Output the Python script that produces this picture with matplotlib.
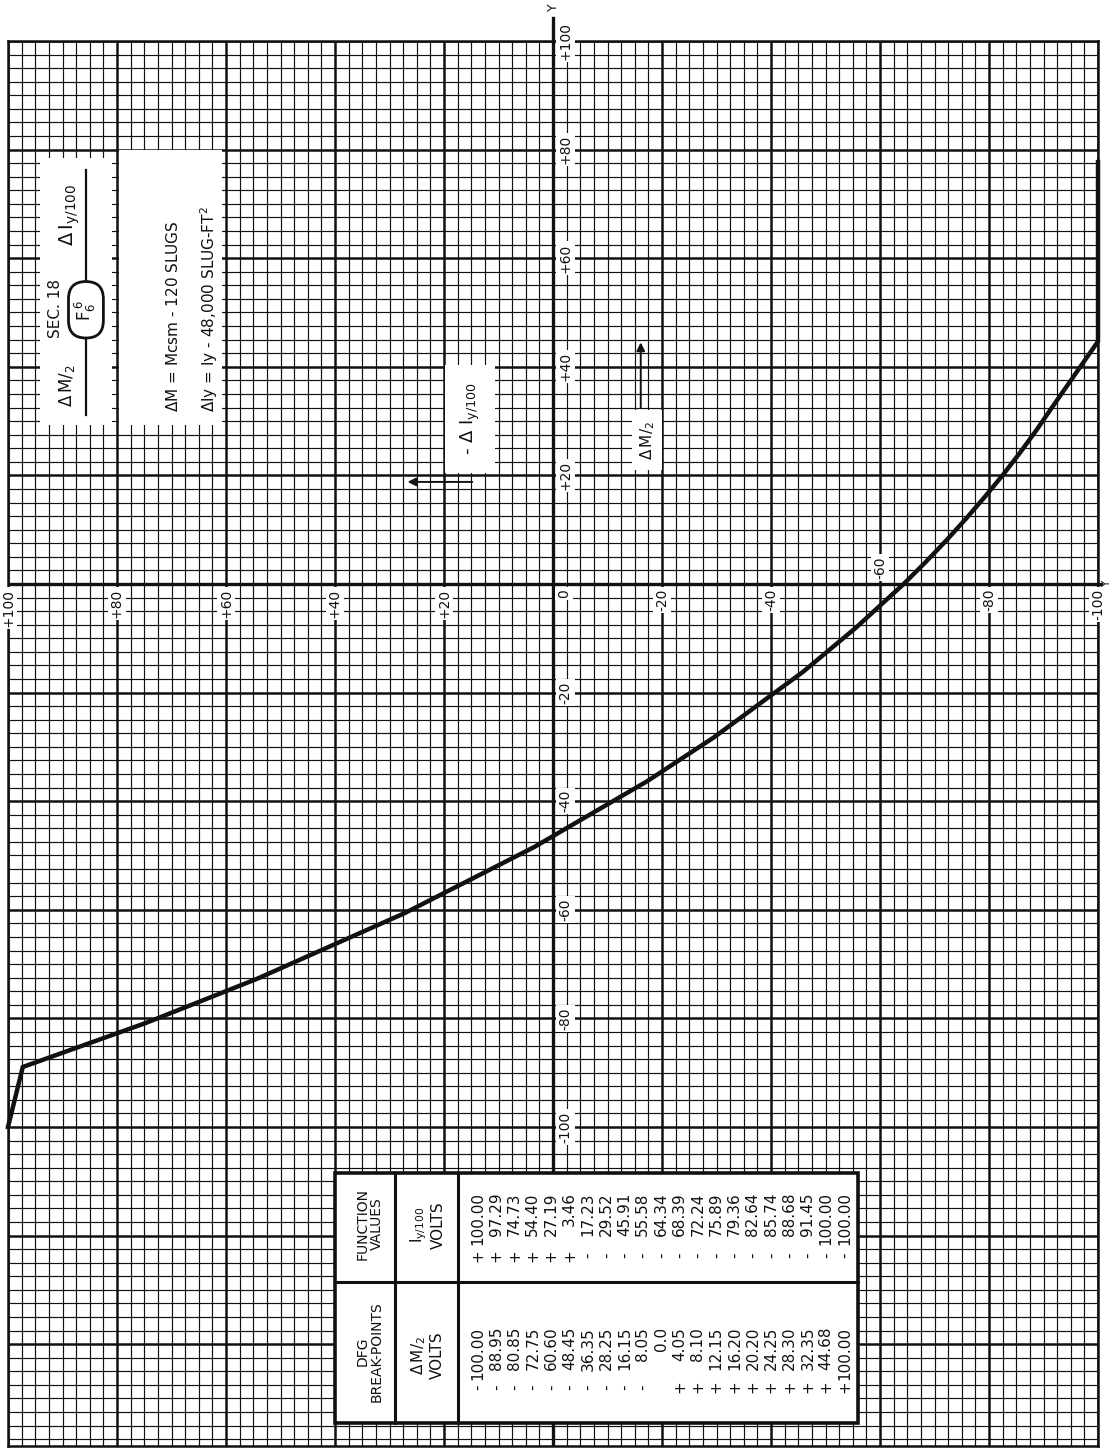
import numpy as np
import matplotlib
matplotlib.use("Agg")
import matplotlib.pyplot as plt
from matplotlib.ticker import MultipleLocator
from matplotlib.patches import Rectangle, FancyBboxPatch

# DFG break-points (delta M / 2, volts) and function values (Iy/100, volts)
dm_half = [-100.00, -88.95, -80.85, -72.75, -60.60, -48.45, -36.35, -28.25, -16.15, -8.05,
           0.0, 4.05, 8.10, 12.15, 16.20, 20.20, 24.25, 28.30, 32.35, 44.68, 100.00]
iy_vals = [100.00, 97.29, 74.73, 54.40, 27.19, 3.46, -17.23, -29.52, -45.91, -55.58,
           -64.34, -68.39, -72.24, -75.89, -79.36, -82.64, -85.74, -88.68, -91.45, -100.00, -100.00]
# drawn curve stops short of the last break-point on the sheet
curve_top_dm = 77.7

axis_ticks = [100, 80, 60, 40, 20, 0, -20, -40, -60, -80, -100]

INK = "#111111"
plt.rcParams["font.family"] = ["DejaVu Sans"]
plt.rcParams["mathtext.fontset"] = "dejavusans"

fig = plt.figure(figsize=(11.12, 14.48), dpi=100)
fig.patch.set_facecolor("white")
ax = fig.add_axes([8 / 1112, 2 / 1448, 1090 / 1112, (1448 - 41 - 2) / 1448])
ax.set_xlim(100, -100)
ax.set_ylim(-158.75, 100)

# graph paper
for axis in (ax.xaxis, ax.yaxis):
    axis.set_major_locator(MultipleLocator(20))
    axis.set_minor_locator(MultipleLocator(2.5))
ax.grid(which="minor", color=INK, lw=0.85, zorder=0)
ax.grid(which="major", color=INK, lw=1.8, zorder=0)
ax.tick_params(which="both", length=0, labelbottom=False, labelleft=False)
ax.set_axisbelow(True)
for sp in ax.spines.values():
    sp.set_linewidth(1.8)
    sp.set_color(INK)

# main axes
ax.axhline(0, color=INK, lw=2.4, zorder=1)
ax.axvline(0, color=INK, lw=2.4, zorder=1)
ax.plot([0, 0], [100, 104.3], color=INK, lw=2.4, clip_on=False)
ax.plot([-100, -100.6], [0, 0], color=INK, lw=2.4, clip_on=False)
ax.text(0, 105.5, "Y", rotation=90, ha="center", va="bottom", fontsize=9, color=INK, clip_on=False)
ax.text(-100.75, 0, "Y", rotation=90, ha="left", va="center", fontsize=7.5, color=INK, clip_on=False)

lab_box = dict(fc="white", ec="none", pad=1.5)
for t in axis_ticks:
    s = "0" if t == 0 else f"{t:+d}"
    # labels along the horizontal line
    if t == -60:
        ax.text(t, 1.0, s, rotation=90, ha="center", va="bottom", fontsize=10, color=INK, bbox=lab_box, zorder=3)
    else:
        ax.text(t if t != 0 else -2.0, -0.9, s, rotation=90, ha="center", va="top", fontsize=10,
                color=INK, bbox=lab_box, zorder=3)
    # labels along the vertical line
    if t != 0:
        ax.text(-1.0, t, s, rotation=90, ha="left", va="center", fontsize=10, color=INK, bbox=lab_box, zorder=3)

# the function curve
curve_dm = dm_half[:-1] + [curve_top_dm]
curve_iy = iy_vals[:-1] + [iy_vals[-1]]
ax.plot(curve_iy, curve_dm, color=INK, lw=3.2, solid_joinstyle="miter", zorder=4, clip_on=False)

# title block
for x0, x1, y0, y1 in [(94.1, 80.9, 29.3, 78.5), (79.7, 60.7, 29.3, 80.0)]:
    ax.add_patch(Rectangle((x1, y0), x0 - x1, y1 - y0, fc="white", ec="none", zorder=2))
ax.plot([85.7, 85.7], [31.1, 76.2], color=INK, lw=1.6, zorder=3)
ax.add_patch(FancyBboxPatch((85.7 - 2.6, 50.5 - 4.6), 5.2, 9.2,
                            boxstyle="round,pad=0.6,rounding_size=3.2",
                            fc="white", ec=INK, lw=2.0, zorder=3))
ax.text(85.7, 50.5, r"$\mathrm{F}_{6}^{\;6}$", rotation=90, ha="center", va="center", fontsize=12, color=INK, zorder=4)
ax.text(91.2, 50.8, "SEC. 18", rotation=90, ha="center", va="center", fontsize=11, color=INK, zorder=4)
ax.text(88.6, 68.0, r"$\Delta\,\mathrm{I}_{\mathrm{y/100}}$", rotation=90, ha="center", va="center", fontsize=14, color=INK, zorder=4)
ax.text(89.2, 36.5, r"$\Delta\,\mathrm{M}/_{2}$", rotation=90, ha="center", va="center", fontsize=12, color=INK, zorder=4)
ax.text(69.7, 31.6, r"$\Delta$M = Mcsm - 120 SLUGS", rotation=90, ha="center", va="bottom", fontsize=11, color=INK, zorder=4)
ax.text(63.0, 31.6, r"$\Delta$Iy = Iy - 48,000 SLUG-FT$^2$", rotation=90, ha="center", va="bottom", fontsize=11, color=INK, zorder=4)

# direction labels
ax.add_patch(Rectangle((10.6, 20.4), 9.2, 19.9, fc="white", ec="none", zorder=2))
ax.text(15.2, 30.4, r"- $\Delta\ \mathrm{I}_{\mathrm{y/100}}$", rotation=90, ha="center", va="center", fontsize=13, color=INK, zorder=4)
ax.annotate("", xy=(27.2, 18.8), xytext=(14.3, 18.8),
            arrowprops=dict(arrowstyle="-|>", color=INK, lw=1.4, mutation_scale=12), zorder=4)
ax.add_patch(Rectangle((-20.0, 21.0), 5.5, 11.0, fc="white", ec="none", zorder=2))
ax.text(-17.3, 26.5, r"$\Delta\,\mathrm{M}/_{2}$", rotation=90, ha="center", va="center", fontsize=11, color=INK, zorder=4)
ax.annotate("", xy=(-16.1, 45.0), xytext=(-16.1, 32.0),
            arrowprops=dict(arrowstyle="-|>", color=INK, lw=1.4, mutation_scale=12), zorder=4)

# break-point table
tl, tr = 40.0, -56.0
tb, tm, tt = -154.5, -128.5, -108.5
ax.add_patch(Rectangle((tr, tb), tl - tr, tt - tb, fc="white", ec=INK, lw=2.6, zorder=5))
ax.plot([tl, tr], [tm, tm], color=INK, lw=2.2, zorder=6)
for xv in (29.0, 17.4):
    ax.plot([xv, xv], [tb, tt], color=INK, lw=2.2, zorder=6)
ax.text(33.6, -117.8, "FUNCTION\nVALUES", rotation=90, ha="center", va="center",
        fontsize=10, linespacing=1.0, color=INK, zorder=7)
ax.text(33.6, -141.3, "DFG\nBREAK-POINTS", rotation=90, ha="center", va="center",
        fontsize=10, linespacing=1.0, color=INK, zorder=7)
ax.text(23.1, -118.0, r"$\mathrm{I}_{\mathrm{y/100}}$" + "\nVOLTS", rotation=90, ha="center", va="center",
        fontsize=11, linespacing=1.1, color=INK, zorder=7)
ax.text(23.1, -142.0, r"$\Delta\,\mathrm{M}/_{2}$" + "\nVOLTS", rotation=90, ha="center", va="center",
        fontsize=11, linespacing=1.1, color=INK, zorder=7)

row_x = np.linspace(13.8, -53.5, len(dm_half))
for xr, d, f in zip(row_x, dm_half, iy_vals):
    for val, sign_y, num_y in ((f, -123.6, -112.0), (d, -147.9, -136.8)):
        if val == 0:
            num = "0.0"
        else:
            num = f"{abs(val):.2f}"
            sign = "+" if val > 0 else "-"
            ax.text(xr, sign_y, sign, rotation=90, ha="center", va="center",
                    fontsize=11, color=INK, zorder=7)
        ax.text(xr, num_y, num, rotation=90, ha="center", va="top",
                fontsize=11, color=INK, zorder=7)

fig.savefig("out.png", dpi=100, facecolor="white")
